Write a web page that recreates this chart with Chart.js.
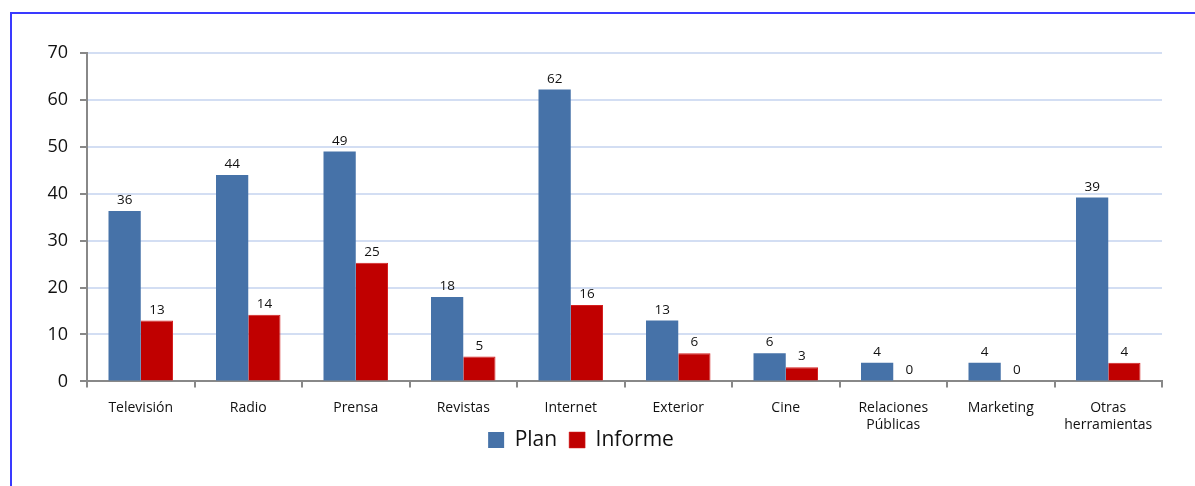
<!DOCTYPE html>
<html>
<head>
<meta charset="utf-8">
<script src="https://cdn.jsdelivr.net/npm/chart.js@4.4.1/dist/chart.umd.min.js"></script>
<style>
  html, body { margin: 0; padding: 0; background: #fff; }
  #wrap { position: relative; width: 1195px; height: 486px; overflow: hidden; }
  #frame { position: absolute; left: 10px; top: 12px; width: 1200px; height: 500px; border-left: 2px solid #3a3aff; border-top: 2px solid #3a3aff; box-sizing: border-box; }
  canvas { position: absolute; left: 0; top: 0; }
</style>
</head>
<body>
<div id="wrap">
  <div id="frame"></div>
  <canvas id="c" width="1195" height="486"></canvas>
</div>
<script>
const categories = ['Televisión', 'Radio', 'Prensa', 'Revistas', 'Internet', 'Exterior', 'Cine', ['Relaciones', 'Públicas'], 'Marketing', ['Otras', 'herramientas']];
const planValues = [36.3, 44, 49, 18, 62.2, 13, 6, 4, 4, 39.2];
const informeValues = [13, 14.2, 25.3, 5.3, 16.3, 6, 3, 0, 0, 4];
const yTicks = [0, 10, 20, 30, 40, 50, 60, 70];

const FONT = "'Open Sans', 'Noto Sans', sans-serif";
const LEGEND_TARGET_CENTER = 439;

const valueLabels = {
  id: 'valueLabels',
  afterDatasetsDraw(chart) {
    const ctx = chart.ctx;
    ctx.save();
    ctx.font = '13.5px ' + FONT;
    ctx.fillStyle = '#111';
    ctx.textAlign = 'center';
    ctx.textBaseline = 'bottom';
    chart.data.datasets.forEach((ds, di) => {
      const meta = chart.getDatasetMeta(di);
      meta.data.forEach((bar, i) => {
        ctx.fillText(String(Math.round(ds.data[i])), bar.x, bar.y - 4);
      });
    });
    ctx.restore();
  }
};

// Move the legend up so it sits between the two-line category labels, as in the reference
const legendShift = {
  id: 'legendShift',
  afterLayout(chart) {
    const lg = chart.legend;
    if (!lg) return;
    const center = (lg.top + lg.bottom) / 2;
    const dy = LEGEND_TARGET_CENTER - center;
    lg.top += dy;
    lg.bottom += dy;
  }
};

new Chart(document.getElementById('c'), {
  type: 'bar',
  data: {
    labels: categories,
    datasets: [
      { label: 'Plan', data: planValues, backgroundColor: '#4672a8', borderWidth: 0 },
      { label: 'Informe', data: informeValues, backgroundColor: '#c00000', borderColor: '#d42020', borderWidth: {top: 1, left: 0, right: 1, bottom: 0} }
    ]
  },
  options: {
    responsive: false,
    animation: false,
    devicePixelRatio: 1,
    layout: { padding: { left: 0, right: 33, top: 53, bottom: -2 } },
    datasets: { bar: { barPercentage: 1.0, categoryPercentage: 0.6 } },
    plugins: {
      legend: {
        position: 'bottom',
        labels: { font: { size: 21, family: FONT }, color: '#111', boxWidth: 16, boxHeight: 16, padding: 12 }
      },
      tooltip: { enabled: false }
    },
    scales: {
      x: {
        grid: { drawOnChartArea: false, drawTicks: true, tickLength: 6, color: '#888', offset: true, lineWidth: 2 },
        border: { color: '#888', width: 2 },
        ticks: { font: { size: 14, family: FONT }, color: '#111', maxRotation: 0, autoSkip: false, padding: 12 }
      },
      y: {
        min: 0, max: 70,
        afterFit(scale) { scale.width = 87; },
        afterBuildTicks(scale) { scale.ticks = yTicks.map(v => ({ value: v })); },
        grid: { color: '#d3def3', lineWidth: 2, tickColor: '#888', tickLength: 7 },
        border: { color: '#888', width: 2 },
        ticks: { font: { size: 18, family: FONT }, color: '#111', padding: 12 }
      }
    }
  },
  plugins: [valueLabels, legendShift]
});
</script>
</body>
</html>
